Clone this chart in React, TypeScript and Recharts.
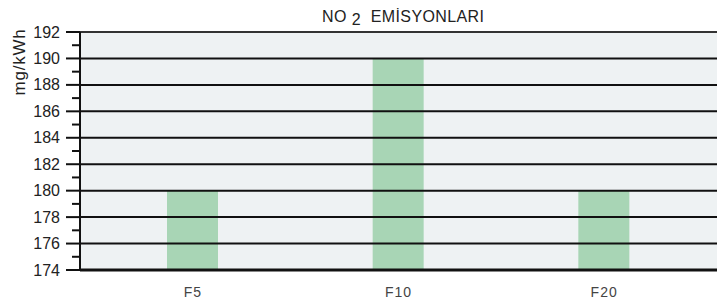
import { BarChart, Bar, XAxis, YAxis, CartesianGrid, ReferenceLine } from "recharts";

const categories = ["F5", "F10", "F20"];
const emissions = [180, 190, 180];
const yMin = 174;
const yMax = 192;
const majorTicks = [174, 176, 178, 180, 182, 184, 186, 188, 190, 192];
const allTicks = [174, 175, 176, 177, 178, 179, 180, 181, 182, 183, 184, 185, 186, 187, 188, 189, 190, 191, 192];

const data = categories.map((name, i) => ({ name, value: emissions[i] }));

const AXIS_X = 80;
const FONT = "'Liberation Sans', Arial, Helvetica, sans-serif";

function YTick(props: any) {
    const { y, payload } = props;
    const v = payload.value;
    const major = v % 2 === 0;
    return (
        <g>
            <line x1={major ? 66 : 72} x2={AXIS_X} y1={y} y2={y} stroke="#111" strokeWidth={2} />
            {major && (
                <text x={60} y={y} textAnchor="end" dominantBaseline="central" fontSize={16} fill="#222" fontFamily={FONT}>
                    {v}
                </text>
            )}
        </g>
    );
}

export default function App() {
    return (
        <div style={{ position: "absolute", left: 0, top: 0, width: 717, height: 304, background: "#fff", fontFamily: FONT }}>
            <div style={{ position: "absolute", left: 322, top: 8, fontSize: 16, letterSpacing: 0.4, color: "#222", whiteSpace: "pre" }}>
                NO <span style={{ position: "relative", top: 3 }}>2</span>  EMİSYONLARI
            </div>
            <div
                style={{
                    position: "absolute",
                    left: 20 - 45,
                    top: 62 - 10,
                    width: 90,
                    height: 20,
                    lineHeight: "20px",
                    textAlign: "center",
                    fontSize: 17,
                    letterSpacing: 0.8,
                    color: "#222",
                    transform: "rotate(-90deg)",
                }}
            >
                mg/kWh
            </div>
            <BarChart width={717} height={304} data={data} margin={{ top: 32, right: 0, bottom: 0, left: 0 }}>
                <CartesianGrid horizontal={false} vertical={false} fill="#eef2f3" stroke="none" />
                <XAxis
                    dataKey="name"
                    height={34}
                    padding={{ left: 10, right: 10 }}
                    axisLine={{ stroke: "#111", strokeWidth: 3 }}
                    tickLine={false}
                    tickSize={0}
                    tickMargin={17}
                    tick={{ fill: "#444", fontSize: 14, fontFamily: FONT, letterSpacing: 1 }}
                />
                <YAxis
                    width={80}
                    domain={[yMin, yMax]}
                    ticks={allTicks}
                    interval={0}
                    allowDataOverflow
                    axisLine={{ stroke: "#111", strokeWidth: 2 }}
                    tickLine={false}
                    tick={<YTick />}
                />
                <Bar dataKey="value" fill="#a8d5b5" barSize={51} isAnimationActive={false} />
                {majorTicks
                    .filter((t) => t !== yMin)
                    .map((t) => (
                        <ReferenceLine key={t} y={t} stroke={t === yMax ? "#333" : "#111"} strokeWidth={2} />
                    ))}
            </BarChart>
        </div>
    );
}
